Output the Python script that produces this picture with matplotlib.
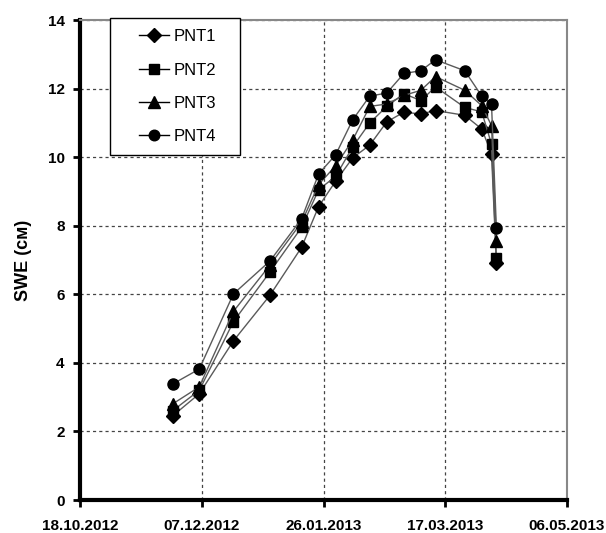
import matplotlib
matplotlib.use("Agg")
import matplotlib.pyplot as plt
import numpy as np
import datetime as dt
from matplotlib.lines import Line2D
from matplotlib.patches import Rectangle

plt.rcParams['font.family'] = ['Liberation Sans', 'DejaVu Sans']

dates = ["2012-11-25", "2012-12-06", "2012-12-20", "2013-01-04", "2013-01-17",
         "2013-01-24", "2013-01-31", "2013-02-07", "2013-02-14", "2013-02-21",
         "2013-02-28", "2013-03-07", "2013-03-13", "2013-03-25", "2013-04-01",
         "2013-04-05", "2013-04-07"]
pnt1 = [2.45, 3.10, 4.64, 5.97, 7.37, 8.56, 9.30, 9.98, 10.35, 11.03, 11.31, 11.26, 11.36, 11.22, 10.82, 10.10, 6.90]
pnt2 = [2.60, 3.20, 5.20, 6.65, 7.95, 9.05, 9.44, 10.30, 11.00, 11.48, 11.85, 11.65, 12.05, 11.45, 11.32, 10.38, 7.05]
pnt3 = [2.80, 3.30, 5.50, 6.85, 8.10, 9.20, 9.75, 10.50, 11.48, 11.55, 11.80, 11.95, 12.35, 11.95, 11.50, 10.92, 7.55]
pnt4 = [3.38, 3.82, 6.01, 6.97, 8.20, 9.51, 10.07, 11.09, 11.78, 11.87, 12.44, 12.52, 12.84, 12.52, 11.78, 11.55, 7.92]
labels = ["PNT1", "PNT2", "PNT3", "PNT4"]
xtick_labels = ["18.10.2012", "07.12.2012", "26.01.2013", "17.03.2013", "06.05.2013"]
y_label = "SWE (см)"

x = [dt.datetime.strptime(d, "%Y-%m-%d") for d in dates]
xticks = [dt.datetime.strptime(s, "%d.%m.%Y") for s in xtick_labels]

fig = plt.figure(figsize=(6.06, 5.33), dpi=100)
ax = fig.add_axes([80/606, 1-500/533, (567-80)/606, (500-20)/533])

styles = [("D", 7.5), ("s", 7), ("^", 8.5), ("o", 8)]
for vals, lab, (m, ms) in zip([pnt1, pnt2, pnt3, pnt4], labels, styles):
    ax.plot(x, vals, color="#5a5a5a", lw=1.0, marker=m, markersize=ms,
            markerfacecolor="black", markeredgecolor="black", label=lab, zorder=3)

ax.set_xlim(xticks[0], xticks[-1])
ax.set_ylim(0, 14)
ax.set_xticks(xticks)
ax.set_xticklabels(xtick_labels)
ax.set_yticks(np.arange(0, 15, 2))

ax.grid(True, color="#444444", linestyle=(0, (2.5, 2.5)), linewidth=0.9)
ax.set_axisbelow(True)

for s in ["left", "bottom"]:
    ax.spines[s].set_linewidth(3)
    ax.spines[s].set_color("black")
for s in ["top", "right"]:
    ax.spines[s].set_linewidth(1.5)
    ax.spines[s].set_color("#888888")

ax.tick_params(axis="both", direction="out", length=5, width=2, color="black",
               labelsize=11, pad=6)
for t in ax.get_xticklabels() + ax.get_yticklabels():
    t.set_fontweight("bold")
ax.tick_params(axis="x", pad=9)

ax.set_ylabel(y_label, fontsize=13, fontweight="bold", labelpad=11)

# legend frame drawn separately (wide horizontal padding as in reference)
fig.patches.append(Rectangle((110/606, 1-155/533), 130/606, 137/533,
                             transform=fig.transFigure, facecolor="white",
                             edgecolor="black", linewidth=1.0, zorder=4))
handles = [Line2D([0], [0], color="black", lw=1.0, marker=m, markersize=ms * 0.95,
                  markerfacecolor="black", markeredgecolor="black")
           for (m, ms) in styles]
leg = fig.legend(handles, labels, loc="upper left",
                 bbox_to_anchor=(136/606, 1-26/533), bbox_transform=fig.transFigure,
                 fontsize=12, frameon=False, borderpad=0.2, labelspacing=1.1,
                 handlelength=1.75, handletextpad=0.3, borderaxespad=0)
leg.set_zorder(5)

fig.savefig("out.png", dpi=100)
